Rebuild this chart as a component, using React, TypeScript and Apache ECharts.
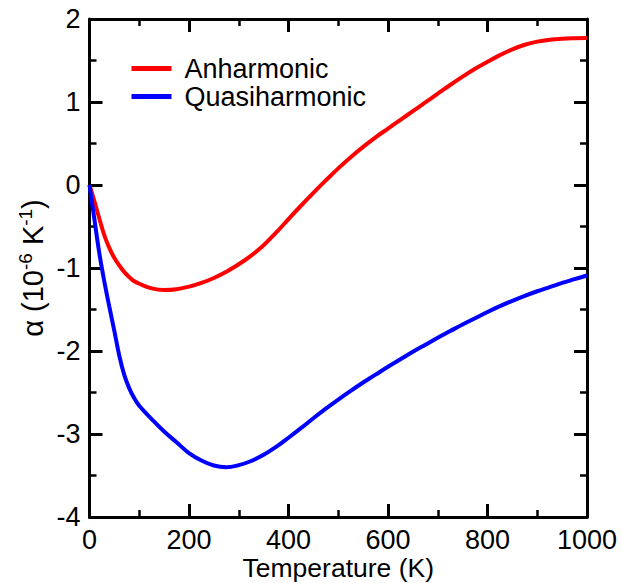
import React, { useEffect, useRef } from "react";
import * as echarts from "echarts";

const temperature = [0, 10, 20, 30, 40, 50, 60, 70, 80, 90, 100, 125, 150, 175, 200, 225, 250, 275, 300, 325, 350, 375, 400, 425, 450, 475, 500, 525, 550, 575, 600, 625, 650, 675, 700, 725, 750, 775, 800, 825, 850, 875, 900, 925, 950, 975, 1000];
const anharmonic = [0, -0.2, -0.41, -0.61, -0.76, -0.88, -0.97, -1.05, -1.11, -1.16, -1.19, -1.245, -1.265, -1.255, -1.225, -1.18, -1.12, -1.045, -0.955, -0.85, -0.725, -0.575, -0.41, -0.25, -0.095, 0.055, 0.2, 0.335, 0.46, 0.575, 0.68, 0.785, 0.89, 0.995, 1.1, 1.205, 1.305, 1.4, 1.485, 1.565, 1.635, 1.69, 1.727, 1.75, 1.763, 1.769, 1.772];
const quasiharmonic = [0, -0.42, -0.83, -1.17, -1.47, -1.76, -2.06, -2.29, -2.45, -2.57, -2.66, -2.82, -2.97, -3.1, -3.23, -3.32, -3.38, -3.4, -3.375, -3.325, -3.25, -3.155, -3.045, -2.93, -2.81, -2.695, -2.585, -2.48, -2.38, -2.285, -2.19, -2.1, -2.01, -1.925, -1.84, -1.76, -1.68, -1.605, -1.53, -1.46, -1.395, -1.335, -1.28, -1.23, -1.18, -1.135, -1.09];
const seriesNames = ["Anharmonic", "Quasiharmonic"];
const seriesColors = ["#ff0000", "#0000ff"];

const FONT = "'Liberation Sans', Arial, Helvetica, sans-serif";
const FS = 27;

export default function App() {
  const ref = useRef<HTMLDivElement>(null);
  useEffect(() => {
    if (!ref.current) return;
    const chart = echarts.init(ref.current, undefined, { renderer: "svg" });
    const axisLine = { show: true, onZero: false, lineStyle: { color: "#000", width: 3 } };
    const axisTick = { show: true, inside: true, length: 13, lineStyle: { color: "#000", width: 3 } };
    const minorTick = { show: true, splitNumber: 2, length: 7, lineStyle: { color: "#000", width: 2.5 } };
    const label = { color: "#000", fontSize: FS, fontFamily: FONT, formatter: (v: number) => String(v) };
    chart.setOption({
      animation: false,
      backgroundColor: "#fff",
      grid: { left: 89.5, right: 35, top: 19, bottom: 66, containLabel: false, outerBoundsMode: "none" },
      legend: {
        orient: "vertical",
        left: 131.5,
        top: 55,
        padding: 0,
        icon: "rect",
        itemWidth: 40,
        itemHeight: 5,
        itemGap: 1,
        data: seriesNames,
        textStyle: { color: "#000", fontSize: FS, fontFamily: FONT, lineHeight: 27, padding: [0, 0, 0, 8] },
      },
      xAxis: [
        {
          type: "value",
          min: 0,
          max: 1000,
          interval: 200,
          name: "Temperature (K)",
          nameLocation: "middle",
          nameGap: 38,
          nameMoveOverlap: false,
          nameTextStyle: { color: "#000", fontSize: 26.5, fontFamily: FONT, verticalAlign: "top", lineHeight: 25 },
          axisLine,
          axisTick,
          minorTick,
          axisLabel: { ...label, margin: 10, lineHeight: 26 },
          splitLine: { show: false },
        },
        {
          type: "value",
          position: "top",
          min: 0,
          max: 1000,
          interval: 200,
          axisLine,
          axisTick,
          minorTick,
          axisLabel: { show: false },
          splitLine: { show: false },
        },
      ],
      yAxis: [
        {
          type: "value",
          min: -4,
          max: 2,
          interval: 1,
          name: "{a|α (10}{s|-6}{a| K}{s|-1}{a|)}",
          nameLocation: "middle",
          nameGap: 42,
          nameMoveOverlap: false,
          nameRotate: 90,
          nameTextStyle: {
            color: "#000",
            fontFamily: FONT,
            rich: {
              a: { fontSize: 29, fontFamily: FONT, color: "#000", verticalAlign: "bottom", lineHeight: 32 },
              s: { fontSize: 19, fontFamily: FONT, color: "#000", verticalAlign: "top", lineHeight: 32, padding: [0, 0, 14, 0] },
            },
          },
          axisLine,
          axisTick,
          minorTick,
          axisLabel: { ...label, margin: 9 },
          splitLine: { show: false },
        },
        {
          type: "value",
          position: "right",
          min: -4,
          max: 2,
          interval: 1,
          axisLine,
          axisTick,
          minorTick,
          axisLabel: { show: false },
          splitLine: { show: false },
        },
      ],
      series: [
        {
          name: seriesNames[0],
          type: "line",
          xAxisIndex: 0,
          yAxisIndex: 0,
          data: temperature.map((t, i) => [t, anharmonic[i]]),
          showSymbol: false,
          smooth: 0.4,
          lineStyle: { color: seriesColors[0], width: 4 },
          itemStyle: { color: seriesColors[0] },
        },
        {
          name: seriesNames[1],
          type: "line",
          xAxisIndex: 0,
          yAxisIndex: 0,
          data: temperature.map((t, i) => [t, quasiharmonic[i]]),
          showSymbol: false,
          smooth: 0.4,
          lineStyle: { color: seriesColors[1], width: 4 },
          itemStyle: { color: seriesColors[1] },
        },
      ],
    });
    return () => chart.dispose();
  }, []);
  return (
    <div
      ref={ref}
      style={{ position: "fixed", left: 0, top: 0, width: 622, height: 583, background: "#fff" }}
    />
  );
}
